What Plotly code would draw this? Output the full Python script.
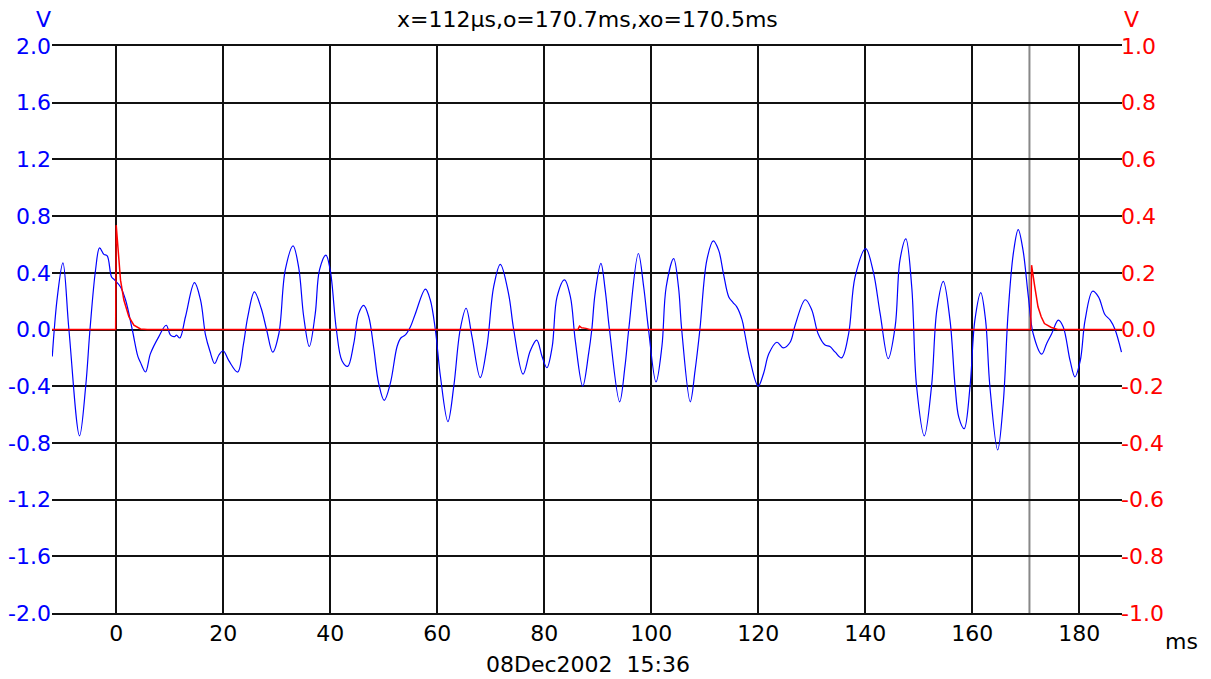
import plotly.graph_objects as go

# ---- channel A (left axis, volts) ----
t_a = [-11.95, -11.0, -9.96, -8.84, -6.85, -5.7, -4.9, -3.86, -3.11, -2.3, -1.68, -0.87, -0.31,
       0.81, 1.74, 3.0, 4.05, 4.5, 5.48, 6.4, 7.97, 9.34, 10.15, 10.9, 11.27, 11.9, 12.95,
       14.63, 15.75, 16.7, 17.5, 18.4, 19.2, 20.0, 21.05, 22.7, 23.8, 24.6, 25.83, 27.1, 28.1,
       29.26, 30.4, 31.6, 33.06, 34.1, 35.05, 36.1, 37.2, 38.0, 39.2, 40.0, 41.15, 42.2, 43.27,
       44.4, 45.3, 46.26, 47.2, 48.1, 49.06, 50.1, 51.24, 52.5, 53.2, 54.0, 55.0, 55.9, 57.8,
       58.7, 59.65, 60.6, 62.0, 63.1, 64.3, 65.4, 66.5, 68.05, 69.3, 70.55, 71.8, 73.35, 74.3,
       76.05, 77.4, 78.6, 79.6, 80.5, 81.5, 82.4, 83.8, 84.9, 85.8, 87.2, 88.3, 88.9, 89.5,
       90.6, 91.4, 92.2, 94.1, 95.1, 95.8, 97.6, 98.6, 99.5, 100.9, 102.0, 102.8, 104.2, 105.1,
       105.7, 107.3, 108.2, 109.1, 110.4, 111.6, 112.6, 113.5, 114.5, 115.3, 116.0, 117.0,
       117.5, 118.5, 120.0, 121.0, 122.0, 123.5, 124.7, 125.97, 126.9, 128.8, 130.0, 131.2,
       132.5, 133.4, 134.4, 135.6, 136.9, 138.1, 140.1, 141.5, 142.8, 144.3, 145.6, 146.5,
       147.6, 148.7, 149.6, 151.05, 152.4, 153.4, 154.6, 155.85, 156.8, 157.5, 158.5, 159.6,
       160.5, 161.6, 162.5, 163.3, 164.76, 165.8, 166.7, 167.7, 168.6, 169.5, 170.5, 171.4,
       173.0, 173.9, 174.85, 176.1, 177.0, 178.3, 179.2, 180.2, 181.1, 182.5, 183.6, 184.8,
       185.8, 186.7, 187.9]
v_a = [-0.19, 0.23, 0.47, 0.0, -0.75, -0.40, 0.0, 0.42, 0.576, 0.53, 0.52, 0.37, 0.35,
       0.30, 0.21, 0.0, -0.19, -0.23, -0.30, -0.17, -0.05, 0.03, -0.04, -0.05, -0.04, -0.06, 0.09,
       0.33, 0.21, -0.04, -0.15, -0.24, -0.18, -0.15, -0.22, -0.30, -0.10, 0.09, 0.266, 0.15, 0.0,
       -0.16, -0.03, 0.42, 0.59, 0.44, 0.09, -0.12, 0.11, 0.42, 0.525, 0.42, 0.0, -0.22, -0.26,
       -0.10, 0.11, 0.17, 0.09, -0.12, -0.38, -0.50, -0.38, -0.12, -0.06, -0.04, 0.02, 0.11, 0.285,
       0.21, 0.0, -0.33, -0.65, -0.40, 0.0, 0.15, -0.05, -0.34, -0.12, 0.30, 0.46, 0.25, 0.0,
       -0.315, -0.15, -0.075, -0.19, -0.27, -0.12, 0.23, 0.35, 0.23, -0.075, -0.40, -0.17, 0.0, 0.25,
       0.466, 0.28, 0.0, -0.51, -0.26, 0.0, 0.536, 0.30, 0.0, -0.37, -0.12, 0.30, 0.50, 0.30,
       0.0, -0.51, -0.29, 0.0, 0.49, 0.625, 0.56, 0.395, 0.23, 0.19, 0.16, 0.066,
       -0.03, -0.22, -0.40, -0.31, -0.17, -0.09, -0.13, -0.09, 0.03, 0.21, 0.14, -0.03,
       -0.11, -0.12, -0.16, -0.20, -0.03, 0.37, 0.57, 0.41, 0.11, -0.205, 0.02, 0.49,
       0.64, 0.30, -0.40, -0.75, -0.40, 0.14, 0.34, 0.066, -0.40, -0.62, -0.70, -0.40,
       0.066, 0.26, 0.066, -0.40, -0.85, -0.52, 0.11, 0.54, 0.705, 0.56, 0.23, -0.03,
       -0.174, -0.10, -0.03, 0.066, 0.02, -0.22, -0.334, -0.22, 0.066, 0.27, 0.23, 0.106,
       0.066, 0.0, -0.16]

# ---- channel B (right axis, volts) ----
t_b = [-12.0, -0.1, 0.0, 0.37, 0.81, 1.43, 2.37, 3.3, 4.55, 5.8,
       86.3, 86.6, 87.0, 87.8, 88.5,
       170.95, 171.1, 171.7, 172.3, 172.9, 173.5, 174.8, 176.0, 188.0]
v_b = [0.0, 0.0, 0.368, 0.268, 0.174, 0.104, 0.045, 0.015, 0.002, 0.0,
       0.0, 0.012, 0.006, 0.004, 0.0,
       0.0, 0.227, 0.15, 0.08, 0.045, 0.021, 0.007, 0.0, 0.0]

# ---- axes / labels ----
x_range = [-12, 188]
x_ticks = [0, 20, 40, 60, 80, 100, 120, 140, 160, 180]
y_left_ticks = [2.0, 1.6, 1.2, 0.8, 0.4, 0.0, -0.4, -0.8, -1.2, -1.6, -2.0]
y_left_text = ["2.0", "1.6", "1.2", "0.8", "0.4", "0.0", "-0.4", "-0.8", "-1.2", "-1.6", "-2.0"]
y_right_ticks = [1.0, 0.8, 0.6, 0.4, 0.2, 0.0, -0.2, -0.4, -0.6, -0.8, -1.0]
y_right_text = ["1.0", "0.8", "0.6", "0.4", "0.2", "0.0", "-0.2", "-0.4", "-0.6", "-0.8", "-1.0"]
cursor_ms = 170.7
header = "x=112µs,o=170.7ms,xo=170.5ms"
stamp = "08Dec2002  15:36"

W, H = 1211, 679
L, R, T, B = 52, 89, 46, 66
PW, PH = W - L - R, H - T - B
FONT = "DejaVu Sans"
BLUE, RED = "#0000FF", "#FF0000"


def px(xp):
    return (xp - L) / PW


def py(yp):
    return (H - B - yp) / PH


fig = go.Figure()
fig.add_trace(go.Scatter(x=t_a, y=v_a, mode="lines",
                         line=dict(color=BLUE, width=1.2, shape="spline", smoothing=1.0),
                         yaxis="y", hoverinfo="skip", showlegend=False))
fig.add_trace(go.Scatter(x=t_b, y=v_b, mode="lines",
                         line=dict(color=RED, width=1.5),
                         yaxis="y2", hoverinfo="skip", showlegend=False))

fig.add_shape(type="line", xref="x", yref="paper", x0=cursor_ms, x1=cursor_ms, y0=0, y1=1,
              line=dict(color="#888888", width=2), layer="below")

fig.update_layout(
    width=W, height=H, template=None,
    margin=dict(l=L, r=R, t=T, b=B, autoexpand=False),
    paper_bgcolor="white", plot_bgcolor="white",
    font=dict(family=FONT, size=22, color="black"),
    xaxis=dict(range=x_range, tickmode="array", tickvals=x_ticks,
               showgrid=True, gridcolor="#111111", gridwidth=1.5, zeroline=False,
               showline=True, mirror=True, linecolor="#111111", linewidth=1.5,
               ticks="", ticklabelstandoff=0, tickfont=dict(family=FONT, size=22, color="black")),
    yaxis=dict(range=[-2, 2], tickmode="array", tickvals=y_left_ticks, ticktext=y_left_text,
               showgrid=True, gridcolor="#111111", gridwidth=1.5, zeroline=False,
               showline=False, ticks="", ticklabelstandoff=0,
               tickfont=dict(family=FONT, size=22, color=BLUE)),
    yaxis2=dict(range=[-1, 1], overlaying="y", side="right", tickmode="array",
                tickvals=y_right_ticks, ticktext=y_right_text, showgrid=False, zeroline=False,
                showline=False, ticks="", ticklabelstandoff=-2,
                tickfont=dict(family=FONT, size=22, color=RED)),
    annotations=[
        dict(text=header, xref="paper", yref="paper", x=0.5, y=py(20), xanchor="center",
             yanchor="middle", showarrow=False, font=dict(family=FONT, size=22, color="black")),
        dict(text="V", xref="paper", yref="paper", x=px(53), y=py(20), xanchor="right",
             yanchor="middle", showarrow=False, font=dict(family=FONT, size=22, color=BLUE)),
        dict(text="V", xref="paper", yref="paper", x=px(1122), y=py(20), xanchor="left",
             yanchor="middle", showarrow=False, font=dict(family=FONT, size=22, color=RED)),
        dict(text="ms", xref="paper", yref="paper", x=px(1181), y=py(641), xanchor="center",
             yanchor="middle", showarrow=False, font=dict(family=FONT, size=22, color="black")),
        dict(text=stamp, xref="paper", yref="paper", x=px(588), y=py(664), xanchor="center",
             yanchor="middle", showarrow=False, font=dict(family=FONT, size=22, color="black")),
    ],
)

fig.write_html("out.html")
